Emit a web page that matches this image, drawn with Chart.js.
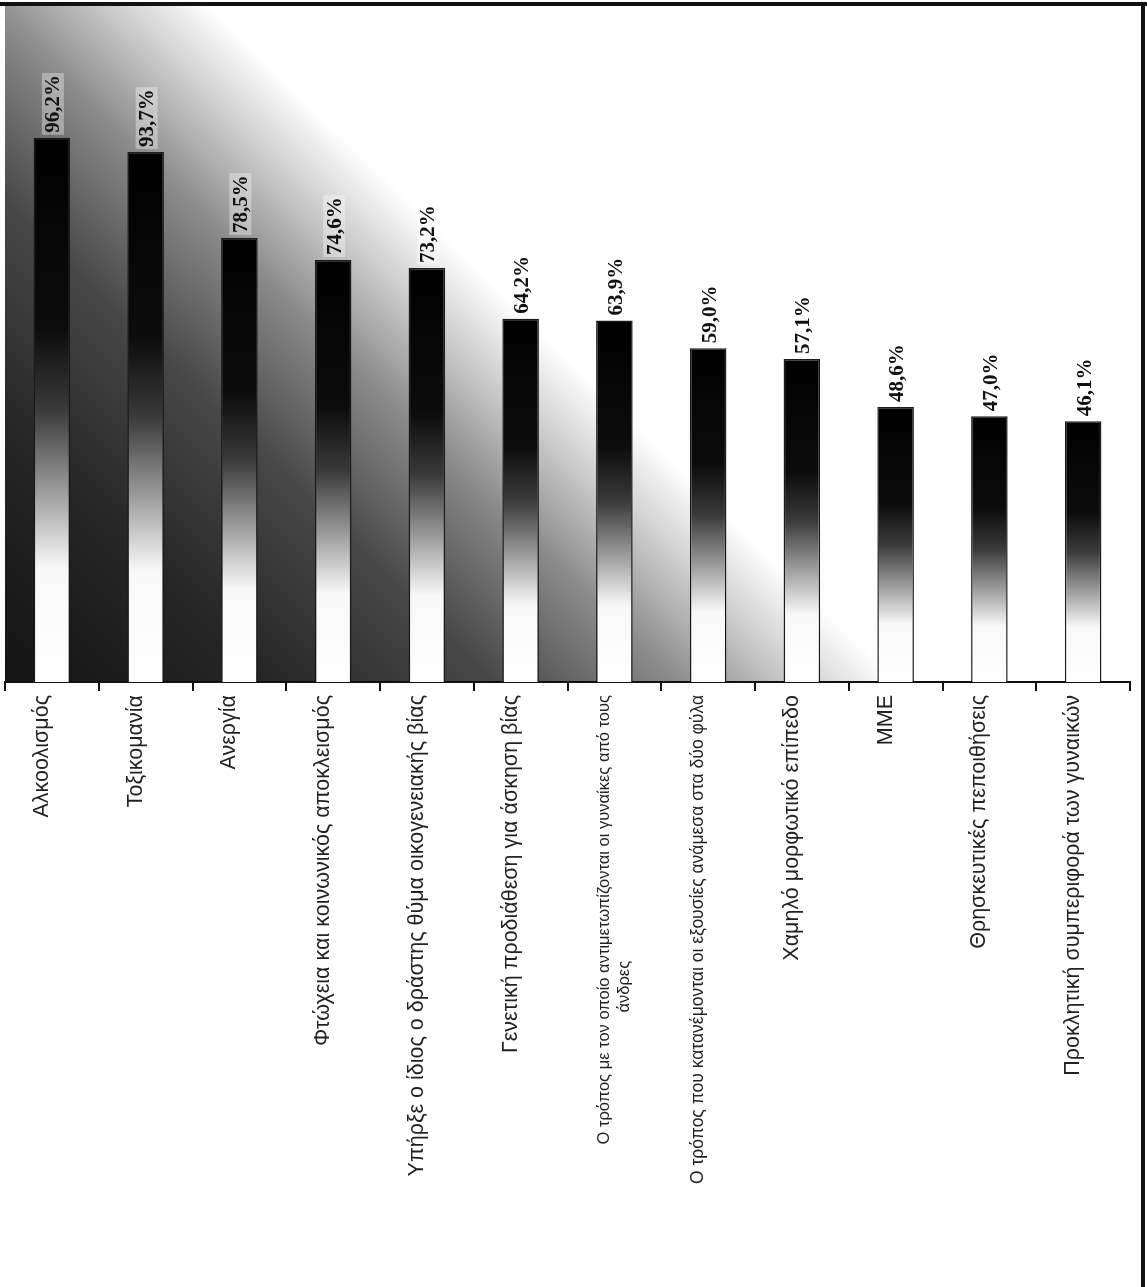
<!DOCTYPE html>
<html>
<head>
<meta charset="utf-8">
<script src="https://cdn.jsdelivr.net/npm/chart.js@4.4.0/dist/chart.umd.min.js"></script>
<style>
  html, body { margin: 0; padding: 0; background: #fff; }
  #marco { width: 1147px; height: 1287px; }
</style>
</head>
<body>
<div id="marco"><canvas id="grafico"></canvas></div>
<script>
// categorías (eje x)
const categorias = [
  'Αλκοολισμός',
  'Τοξικομανία',
  'Ανεργία',
  'Φτώχεια και κοινωνικός αποκλεισμός',
  'Υπήρξε ο ίδιος ο δράστης θύμα οικογενειακής βίας',
  'Γενετική προδιάθεση για άσκηση βίας',
  ['Ο τρόπος με τον οποίο αντιμετωπίζονται οι γυναίκες από τους', 'άνδρες'],
  'Ο τρόπος που κατανέμονται οι εξουσίες ανάμεσα στα δύο φύλα',
  'Χαμηλό μορφωτικό επίπεδο',
  'ΜΜΕ',
  'Θρησκευτικές πεποιθήσεις',
  'Προκλητική συμπεριφορά των γυναικών'
];

// porcentajes
const valores = [96.2, 93.7, 78.5, 74.6, 73.2, 64.2, 63.9, 59.0, 57.1, 48.6, 47.0, 46.1];

const ejeMin = 0;
const ejeMax = 119.5;

const fuenteEtiquetas = "'Liberation Sans', Arial, sans-serif";
// las dos etiquetas largas van más apretadas en el original
const tamanoEtiquetas = [21.5, 21.5, 21.5, 21.5, 21.5, 21.5, 16.5, 17.5, 21.5, 21.5, 21.5, 21.5];

// fondo degradado del área del gráfico
const fondoDegradado = {
  id: 'fondoDegradado',
  beforeDraw(chart) {
    const { ctx, chartArea } = chart;
    if (!chartArea) return;
    const { left, top, right, bottom } = chartArea;
    const w = right - left, h = bottom - top;
    const g = ctx.createLinearGradient(left, bottom, left + w * 0.39, bottom - h * 0.66);
    g.addColorStop(0, '#141414');
    g.addColorStop(0.3, '#262626');
    g.addColorStop(0.55, '#484848');
    g.addColorStop(0.75, '#8a8a8a');
    g.addColorStop(0.89, '#cdcdcd');
    g.addColorStop(1, '#ffffff');
    ctx.save();
    ctx.fillStyle = '#fff';
    ctx.fillRect(0, 0, chart.width, chart.height);
    ctx.fillStyle = g;
    ctx.fillRect(left, top, w, h);
    ctx.restore();
  },
  afterDraw(chart) {
    // marco negro arriba y a la derecha
    const { ctx } = chart;
    ctx.save();
    ctx.fillStyle = '#111';
    ctx.fillRect(0, 2, chart.width, 4);
    ctx.fillRect(1141, 2, 4, chart.height - 2);
    ctx.restore();
  }
};

// porcentaje encima de cada barra, girado
const etiquetasValor = {
  id: 'etiquetasValor',
  afterDatasetsDraw(chart) {
    const { ctx } = chart;
    const meta = chart.getDatasetMeta(0);
    ctx.save();
    ctx.font = "bold 21px 'Liberation Serif', 'Times New Roman', serif";
    ctx.textAlign = 'left';
    ctx.textBaseline = 'middle';
    meta.data.forEach((barra, i) => {
      const texto = valores[i].toFixed(1).replace('.', ',') + '%';
      ctx.save();
      ctx.translate(barra.x + 1, barra.y - 5);
      ctx.rotate(-Math.PI / 2);
      const ancho = ctx.measureText(texto).width;
      ctx.fillStyle = 'rgba(255,255,255,0.35)';
      ctx.fillRect(-2, -11, ancho + 4, 22);
      ctx.fillStyle = '#111';
      ctx.fillText(texto, 0, 1);
      ctx.restore();
    });
    ctx.restore();
  }
};

new Chart(document.getElementById('grafico').getContext('2d'), {
  type: 'bar',
  data: {
    labels: categorias,
    datasets: [{
      data: valores,
      backgroundColor(context) {
        const chart = context.chart;
        const { ctx, chartArea, scales } = chart;
        if (!chartArea || !scales.y) return '#000';
        const yTop = scales.y.getPixelForValue(context.raw);
        const yBase = scales.y.getPixelForValue(0);
        const g = ctx.createLinearGradient(0, yTop, 0, yBase);
        g.addColorStop(0, '#000');
        g.addColorStop(0.35, '#0c0c0c');
        g.addColorStop(0.5, '#3a3a3a');
        g.addColorStop(0.65, '#9c9c9c');
        g.addColorStop(0.79, '#f8f8f8');
        g.addColorStop(1, '#ffffff');
        return g;
      },
      borderColor: '#1a1a1a',
      borderWidth: 1.5,
      barPercentage: 0.39,
      categoryPercentage: 1
    }]
  },
  options: {
    responsive: true,
    maintainAspectRatio: false,
    animation: false,
    layout: { padding: { left: 5, right: 17, top: 6, bottom: 0 } },
    plugins: {
      legend: { display: false },
      tooltip: { enabled: false }
    },
    scales: {
      x: {
        offset: true,
        border: { display: true, color: '#111', width: 2 },
        grid: {
          offset: true,
          drawOnChartArea: false,
          drawTicks: true,
          tickLength: 9,
          color: '#111',
          lineWidth: 2
        },
        ticks: {
          autoSkip: false,
          minRotation: 90,
          maxRotation: 90,
          padding: 4,
          labelOffset: -10,
          color: '#222',
          font(context) {
            return { family: fuenteEtiquetas, size: tamanoEtiquetas[context.index] || 21.5 };
          },
          callback(valor, indice) {
            const l = categorias[indice];
            if (Array.isArray(l)) {
              // segunda línea desplazada hacia abajo como en el original
              return [l[0], l[1] + '\u00A0'.repeat(58)];
            }
            return l;
          }
        },
        afterFit(escala) {
          escala.height = 605;
        }
      },
      y: {
        display: false,
        min: ejeMin,
        max: ejeMax
      }
    }
  },
  plugins: [fondoDegradado, etiquetasValor]
});
</script>
</body>
</html>
